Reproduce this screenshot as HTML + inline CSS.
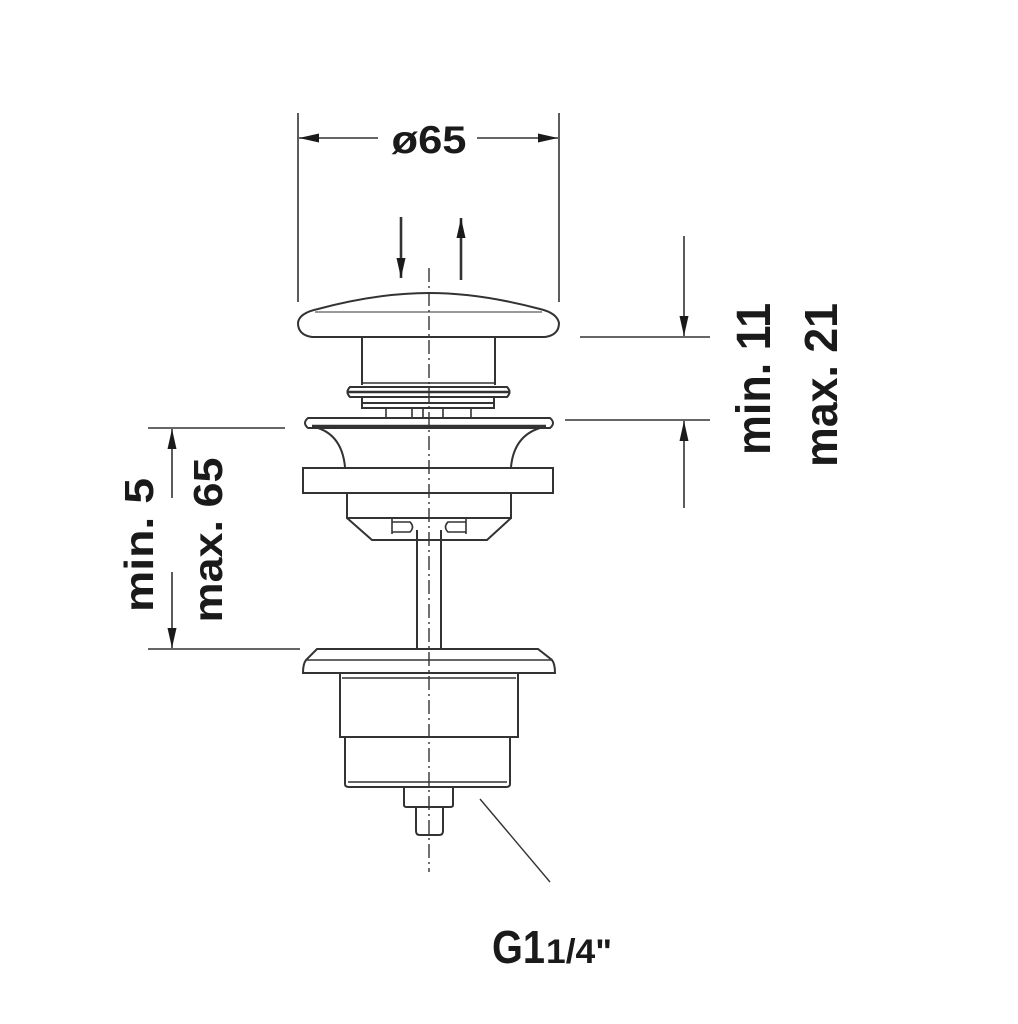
<!DOCTYPE html>
<html><head><meta charset="utf-8"><style>
html,body{margin:0;padding:0;background:#fff;}
svg{display:block;}
text{font-family:"Liberation Sans",sans-serif;font-weight:bold;fill:#1a1a1a;}
</style></head><body>
<svg width="1018" height="1024" viewBox="0 0 1018 1024" xmlns="http://www.w3.org/2000/svg">
<defs>
<marker id="ah" viewBox="0 0 10 10" refX="10" refY="5" markerWidth="10" markerHeight="10" markerUnits="userSpaceOnUse" orient="auto">
<path d="M0,1 L10,5 L0,9 z" fill="#1a1a1a"/></marker>
<marker id="ah2" viewBox="0 0 20 10" refX="20" refY="5" markerWidth="24" markerHeight="10" markerUnits="userSpaceOnUse" orient="auto">
<path d="M0,0.5 L20,5 L0,9.5 z" fill="#1a1a1a"/></marker>
</defs>
<g stroke="#333" fill="none" stroke-width="1.6">
<!-- centerline -->
<line x1="429" y1="268" x2="429" y2="872" stroke-dasharray="14,4,2,4" stroke-width="1.4"/>
<!-- top dimension -->
<line x1="298" y1="113" x2="298" y2="302"/>
<line x1="559" y1="113" x2="559" y2="302"/>
<line x1="378" y1="138" x2="299" y2="138" marker-end="url(#ah2)"/>
<line x1="477" y1="138" x2="558" y2="138" marker-end="url(#ah2)"/>
<line x1="401" y1="217" x2="401" y2="278" stroke-width="2.6" marker-end="url(#ah2)"/>
<line x1="461" y1="280" x2="461" y2="218" stroke-width="2.6" marker-end="url(#ah2)"/>
<!-- cap -->
<path d="M312,337 L545,337 Q559,335 559,323 Q557,313 540,309 Q480,293 429,293 Q378,293 318,309 Q299,313 298,323 Q298,335 312,337 Z" stroke-width="2"/>
<line x1="315" y1="312" x2="542" y2="312" stroke-width="1"/>
<!-- stem -->
<path d="M362,337 V385 M495,337 V385" stroke-width="2"/>
<line x1="362" y1="383" x2="495" y2="383"/>
<path d="M350,387 H507 Q512,392 507,397 H350 Q345,392 350,387 Z" stroke-width="2"/>
<line x1="348" y1="392" x2="510" y2="392" stroke-width="2.5"/>
<path d="M362,397 V408 H494 V397" stroke-width="2"/>
<line x1="362" y1="403" x2="494" y2="403" stroke-width="2"/>
<path d="M386,408 V418 M412,408 V418 M423,408 V418 M443,408 V418 M471,408 V418"/>
<!-- upper flange -->
<path d="M308,418 H550 Q556,423 550,428 H308 Q302,423 308,418 Z" stroke-width="2"/>
<line x1="312" y1="426" x2="546" y2="426" stroke-width="2.5"/>
<path d="M318,428 Q342,436 345,467 M540,428 Q514,436 511,467" stroke-width="2"/>
<!-- plate -->
<rect x="303" y="468" width="250" height="25" stroke-width="2"/>
<!-- lower body -->
<path d="M347,493 V518 H511 V493" stroke-width="2"/>
<path d="M347,518 L372,540 H487 L511,518" stroke-width="2"/>
<path d="M392,522 H410 Q415,527 410,532 H392 M466,522 H448 Q443,527 448,532 H466"/>
<path d="M392,518 V534 M466,518 V534"/>
<!-- rod -->
<path d="M417,530 V650 M441,530 V650" stroke-width="2"/>
<!-- lower flange -->
<path d="M317,649 H538 L552,660 Q555,664 555,673 H303 Q303,664 306,660 Z" stroke-width="2"/>
<line x1="306" y1="660" x2="552" y2="660"/>
<path d="M340,673 V737 H518 V673" stroke-width="2"/>
<line x1="342" y1="678" x2="516" y2="678"/>
<path d="M345,737 V784 Q345,787 349,787 H506 Q510,787 510,784 V737" stroke-width="2"/>
<line x1="348" y1="782" x2="507" y2="782"/>
<path d="M404,787 V805 Q404,807 407,807 H450 Q453,807 453,805 V787" stroke-width="2"/>
<path d="M416,807 V831 Q416,835 420,835 H439 Q443,835 443,831 V807" stroke-width="2"/>
<!-- leader -->
<line x1="480" y1="799" x2="550" y2="882" stroke-width="1.4"/>
<!-- right dims -->
<line x1="580" y1="337" x2="710" y2="337"/>
<line x1="565" y1="420" x2="710" y2="420"/>
<line x1="684" y1="236" x2="684" y2="336" marker-end="url(#ah2)"/>
<line x1="684" y1="508" x2="684" y2="421" marker-end="url(#ah2)"/>
<!-- left dims -->
<line x1="148" y1="428" x2="285" y2="428"/>
<line x1="148" y1="649" x2="300" y2="649"/>
<line x1="172" y1="498" x2="172" y2="429" marker-end="url(#ah2)"/>
<line x1="172" y1="572" x2="172" y2="648" marker-end="url(#ah2)"/>
</g>
<text x="429" y="153" font-size="39" text-anchor="middle" textLength="75" lengthAdjust="spacingAndGlyphs">ø65</text>
<text transform="translate(770,379) rotate(-90)" font-size="48" text-anchor="middle" textLength="152" lengthAdjust="spacingAndGlyphs">min. 11</text>
<text transform="translate(837,385) rotate(-90)" font-size="46" text-anchor="middle" textLength="164" lengthAdjust="spacingAndGlyphs">max. 21</text>
<text transform="translate(153,545) rotate(-90)" font-size="41" text-anchor="middle" textLength="134" lengthAdjust="spacingAndGlyphs">min. 5</text>
<text transform="translate(222,540) rotate(-90)" font-size="41" text-anchor="middle" textLength="165" lengthAdjust="spacingAndGlyphs">max. 65</text>
<text x="492" y="963" font-size="46" textLength="53" lengthAdjust="spacingAndGlyphs">G1</text>
<text x="546" y="963" font-size="34" textLength="66" lengthAdjust="spacingAndGlyphs">1/4"</text>
</svg>
</body></html>
